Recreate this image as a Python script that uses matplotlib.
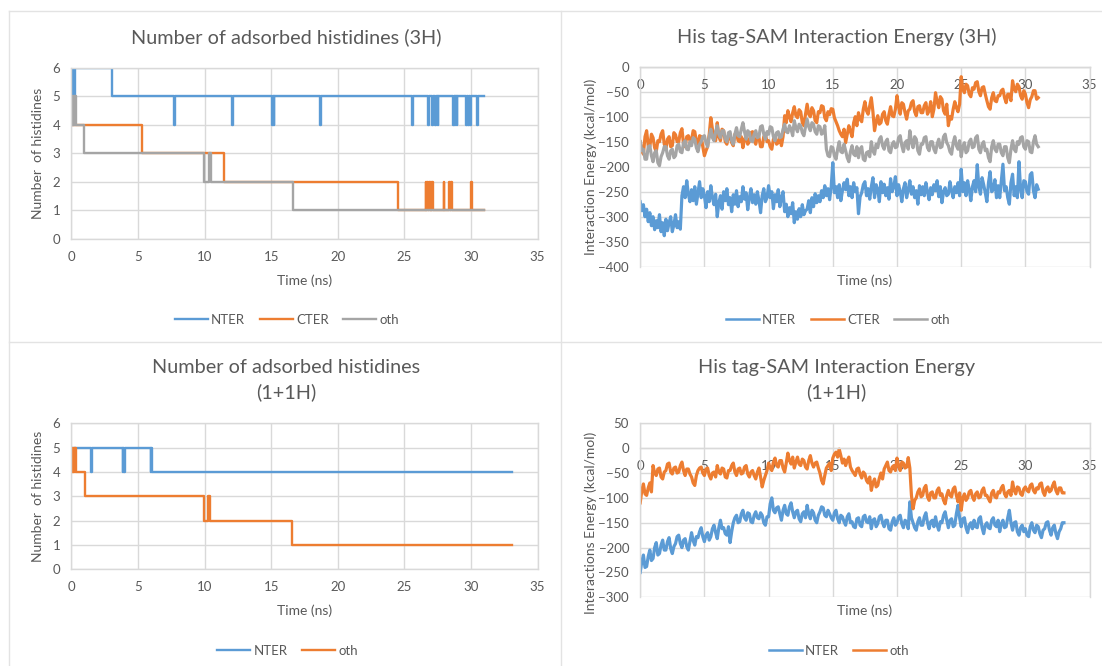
import numpy as np
import matplotlib
matplotlib.use("Agg")
import matplotlib.pyplot as plt
from matplotlib.lines import Line2D

plt.rcParams['font.family'] = ['Lato', 'DejaVu Sans']

# ---------------- data ----------------
series_3h = ["NTER", "CTER", "oth"]
series_11h = ["NTER", "oth"]
x_ticks = [0, 5, 10, 15, 20, 25, 30, 35]

# Number of adsorbed histidines (3H): step change times (ns) and levels
nter3_t = [0, 0.05, 0.1, 0.15, 0.2, 0.25, 3.06, 7.7, 7.75, 12.08, 12.13, 15.08, 15.13, 15.18, 15.23,
           18.67, 18.72, 25.6, 25.65, 26.8, 26.85, 27.07, 27.12, 27.3, 27.35, 27.5, 27.55,
           28.65, 28.7, 28.78, 28.83, 28.93, 28.98, 29.65, 29.7, 29.78, 29.83, 29.92, 29.97,
           30.45, 30.5, 31.0]
nter3_n = [4, 6, 5, 6, 5, 6, 5, 4, 5, 4, 5, 4, 5, 4, 5,
           4, 5, 4, 5, 4, 5, 4, 5, 4, 5, 4, 5,
           4, 5, 4, 5, 4, 5, 4, 5, 4, 5, 4, 5,
           4, 5, 5]
cter3_t = [0, 5.3, 11.43, 24.56, 26.6, 26.65, 26.72, 26.77, 26.85, 26.9, 26.98, 27.03, 27.1, 27.15,
           27.95, 28.0, 28.37, 28.42, 28.52, 28.57, 30.0, 30.05, 31.0]
cter3_n = [4, 3, 2, 1, 2, 1, 2, 1, 2, 1, 2, 1, 2, 1,
           2, 1, 2, 1, 2, 1, 2, 1, 1]
oth3_t = [0, 0.05, 0.1, 0.15, 0.2, 0.25, 0.3, 0.35, 0.98, 9.97, 10.33, 10.5, 16.64, 31.0]
oth3_n = [5, 4, 5, 4, 5, 4, 5, 4, 3, 2, 3, 2, 1, 1]

# Number of adsorbed histidines (1+1H)
nter11_t = [0, 1.48, 1.53, 3.84, 3.89, 3.97, 4.02, 5.95, 6.0, 6.05, 33.1]
nter11_n = [5, 4, 5, 4, 5, 4, 5, 4, 5, 4, 4]
oth11_t = [0, 0.05, 0.1, 0.15, 0.2, 0.25, 0.3, 0.35, 0.99, 9.92, 10.27, 10.4, 16.57, 33.1]
oth11_n = [5, 4, 5, 4, 5, 4, 5, 4, 3, 2, 3, 2, 1, 1]

# Interaction energy, sampled every 0.125 ns (kcal/mol); one row per ns
e_step = 0.125
nter3_e = [
    -270, -288, -276, -300, -285, -310, -292, -318,
    -300, -326, -308, -322, -296, -330, -312, -338,
    -305, -328, -312, -300, -330, -316, -296, -322,
    -310, -325, -258, -240, -262, -228, -255, -270,
    -246, -268, -240, -275, -252, -230, -262, -244,
    -258, -282, -250, -270, -238, -262, -276, -255,
    -300, -272, -258, -285, -250, -268, -244, -276,
    -262, -290, -256, -275, -248, -280, -260, -270,
    -240, -265, -252, -286, -262, -244, -272, -256,
    -275, -250, -268, -292, -258, -244, -270, -262,
    -238, -262, -250, -284, -256, -270, -246, -280,
    -262, -250, -290, -275, -300, -282, -294, -272,
    -312, -290, -305, -284, -300, -276, -296, -288,
    -285, -268, -292, -262, -280, -254, -272, -258,
    -270, -248, -262, -238, -258, -244, -266, -240,
    -192, -252, -240, -262, -236, -268, -248, -232,
    -246, -225, -258, -240, -262, -232, -250, -242,
    -294, -260, -252, -236, -230, -258, -244, -265,
    -240, -222, -262, -236, -245, -270, -230, -252,
    -235, -258, -242, -265, -224, -250, -240, -220,
    -258, -236, -250, -270, -244, -232, -262, -246,
    -228, -255, -240, -262, -248, -275, -238, -256,
    -240, -258, -232, -250, -266, -242, -256, -236,
    -248, -228, -260, -240, -272, -250, -242, -258,
    -255, -230, -248, -262, -240, -252, -232, -258,
    -205, -250, -232, -258, -228, -246, -268, -240,
    -228, -250, -196, -240, -255, -222, -236, -252,
    -270, -232, -210, -250, -245, -226, -262, -238,
    -262, -228, -195, -248, -240, -262, -275, -232,
    -215, -258, -240, -262, -190, -245, -262, -228,
    -230, -250, -255, -216, -212, -248, -262, -236,
    -245]
cter3_e = [
    -150, -168, -175, -140, -128, -158, -160, -135,
    -142, -162, -170, -148, -150, -135, -128, -155,
    -165, -145, -140, -160, -158, -132, -136, -150,
    -150, -132, -124, -155, -160, -140, -138, -148,
    -146, -128, -130, -150, -155, -138, -140, -160,
    -178, -168, -160, -135, -102, -125, -135, -148,
    -112, -140, -148, -125, -128, -150, -155, -138,
    -140, -152, -158, -135, -132, -148, -150, -140,
    -162, -145, -138, -155, -150, -132, -130, -148,
    -155, -138, -142, -160, -160, -140, -136, -150,
    -148, -160, -165, -145, -140, -155, -152, -138,
    -158, -140, -98, -112, -88, -100, -110, -92,
    -80, -98, -102, -86, -90, -112, -118, -95,
    -75, -95, -100, -82, -88, -108, -112, -90,
    -92, -78, -80, -102, -108, -90, -96, -84,
    -85, -102, -110, -118, -128, -135, -140, -125,
    -152, -135, -118, -130, -140, -112, -100, -118,
    -92, -105, -110, -85, -70, -88, -95, -78,
    -62, -90, -128, -110, -98, -115, -112, -95,
    -90, -108, -115, -95, -80, -98, -100, -85,
    -58, -80, -95, -72, -75, -92, -105, -88,
    -85, -72, -68, -90, -98, -80, -78, -92,
    -92, -78, -72, -95, -88, -70, -100, -85,
    -52, -70, -82, -60, -65, -88, -95, -75,
    -118, -100, -105, -85, -70, -82, -90, -75,
    -20, -45, -52, -35, -38, -55, -60, -42,
    -45, -32, -30, -50, -58, -42, -40, -55,
    -68, -80, -85, -62, -52, -68, -70, -58,
    -58, -48, -45, -62, -72, -55, -55, -68,
    -28, -45, -50, -35, -40, -58, -65, -48,
    -55, -72, -82, -66, -60, -48, -48, -65,
    -62]
oth3_e = [
    -150, -168, -165, -185, -185, -160, -158, -178,
    -190, -172, -168, -192, -198, -180, -172, -160,
    -160, -178, -185, -168, -165, -182, -178, -158,
    -155, -170, -172, -152, -148, -165, -166, -150,
    -158, -142, -145, -162, -170, -155, -150, -140,
    -138, -152, -160, -140, -125, -142, -148, -130,
    -118, -135, -142, -128, -128, -145, -150, -132,
    -130, -148, -155, -135, -122, -138, -140, -125,
    -112, -130, -145, -128, -132, -148, -150, -135,
    -128, -142, -140, -120, -118, -135, -145, -130,
    -135, -120, -122, -140, -148, -132, -130, -142,
    -140, -125, -115, -130, -132, -118, -125, -138,
    -108, -122, -130, -115, -118, -132, -138, -120,
    -105, -120, -128, -112, -115, -130, -135, -118,
    -120, -135, -132, -118, -165, -178, -180, -160,
    -162, -178, -185, -165, -150, -170, -172, -155,
    -168, -182, -190, -170, -158, -175, -178, -160,
    -182, -165, -160, -185, -188, -172, -170, -180,
    -150, -168, -175, -155, -162, -145, -140, -158,
    -165, -150, -145, -168, -172, -155, -150, -162,
    -160, -142, -138, -158, -170, -152, -148, -165,
    -128, -150, -162, -140, -145, -168, -175, -155,
    -155, -142, -140, -162, -168, -150, -150, -165,
    -172, -155, -145, -162, -160, -140, -135, -152,
    -158, -170, -175, -152, -140, -158, -165, -148,
    -180, -160, -152, -172, -168, -150, -145, -162,
    -160, -142, -138, -165, -172, -155, -150, -168,
    -165, -182, -190, -160, -148, -165, -170, -155,
    -155, -172, -178, -160, -160, -182, -192, -165,
    -148, -165, -170, -150, -155, -142, -140, -160,
    -165, -148, -150, -170, -172, -150, -138, -155,
    -160]
nter11_e = [
    -250, -228, -215, -240, -238, -218, -205, -226,
    -222, -200, -190, -215, -212, -195, -185, -205,
    -205, -188, -180, -202, -212, -198, -192, -178,
    -175, -192, -200, -185, -182, -198, -205, -188,
    -170, -186, -195, -178, -180, -168, -160, -178,
    -188, -175, -170, -185, -178, -162, -155, -170,
    -182, -160, -145, -162, -160, -172, -175, -158,
    -190, -168, -150, -140, -135, -150, -148, -132,
    -125, -140, -145, -130, -132, -148, -150, -135,
    -128, -140, -142, -130, -135, -150, -155, -138,
    -138, -112, -100, -125, -130, -120, -118, -132,
    -145, -125, -115, -132, -135, -118, -110, -128,
    -140, -128, -125, -142, -148, -132, -128, -140,
    -115, -132, -142, -125, -130, -145, -150, -135,
    -128, -118, -120, -135, -138, -125, -132, -140,
    -145, -130, -125, -142, -150, -135, -138, -148,
    -155, -138, -132, -150, -148, -158, -160, -142,
    -140, -155, -158, -138, -135, -148, -150, -138,
    -162, -145, -142, -158, -152, -138, -135, -150,
    -158, -145, -145, -162, -165, -148, -140, -155,
    -150, -138, -135, -152, -160, -145, -148, -162,
    -108, -140, -150, -160, -165, -148, -140, -155,
    -155, -138, -130, -150, -162, -148, -145, -158,
    -138, -155, -165, -148, -150, -135, -128, -145,
    -160, -145, -142, -158, -155, -132, -115, -140,
    -158, -142, -140, -160, -170, -155, -150, -162,
    -145, -158, -160, -142, -138, -160, -172, -155,
    -150, -160, -162, -145, -140, -155, -158, -145,
    -168, -152, -145, -160, -158, -140, -125, -150,
    -165, -150, -148, -168, -175, -160, -155, -168,
    -162, -175, -178, -158, -150, -165, -170, -155,
    -158, -172, -180, -165, -162, -150, -148, -165,
    -175, -160, -155, -172, -182, -168, -162, -150,
    -150]
oth11_e = [
    -110, -85, -72, -92, -95, -80, -70, -88,
    -35, -50, -55, -42, -40, -58, -62, -48,
    -45, -32, -30, -48, -52, -40, -38, -50,
    -48, -35, -28, -45, -55, -42, -42, -52,
    -58, -70, -75, -55, -45, -40, -38, -50,
    -55, -42, -40, -55, -62, -50, -48, -58,
    -35, -48, -52, -40, -42, -58, -60, -45,
    -45, -35, -30, -48, -55, -42, -40, -52,
    -50, -38, -35, -52, -58, -48, -45, -55,
    -62, -48, -40, -58, -78, -65, -55, -45,
    -30, -40, -45, -28, -20, -35, -38, -25,
    -25, -40, -48, -30, -10, -25, -32, -18,
    -40, -28, -18, -32, -35, -22, -25, -38,
    -42, -25, -15, -30, -38, -30, -28, -40,
    -50, -65, -72, -55, -40, -35, -30, -45,
    -20, -12, -8, -18, -2, -15, -30, -22,
    -35, -25, -18, -38, -45, -50, -55, -42,
    -40, -52, -60, -48, -52, -65, -70, -58,
    -85, -70, -62, -78, -75, -60, -50, -62,
    -42, -35, -28, -45, -48, -38, -35, -45,
    -20, -35, -45, -28, -30, -40, -38, -19,
    -40, -95, -122, -105, -100, -88, -82, -98,
    -95, -80, -75, -98, -105, -90, -88, -100,
    -100, -85, -80, -95, -92, -105, -112, -95,
    -85, -95, -98, -82, -78, -95, -108, -90,
    -125, -100, -92, -105, -100, -88, -85, -98,
    -105, -92, -88, -100, -98, -85, -80, -95,
    -95, -102, -108, -90, -85, -98, -100, -88,
    -90, -80, -75, -92, -98, -88, -85, -95,
    -68, -85, -92, -78, -80, -92, -95, -82,
    -78, -85, -88, -75, -72, -85, -90, -80,
    -82, -72, -70, -88, -95, -82, -78, -88,
    -85, -75, -68, -85, -92, -80, -80, -90,
    -90]

colors = {"NTER": "#5B9BD5", "CTER": "#ED7D31", "oth": "#A5A5A5"}
TXT = "#595959"
GRID = "#D9D9D9"

# ---------------- figure ----------------
W, H = 1102, 666
fig = plt.figure(figsize=(W / 100, H / 100), dpi=100)


def rect(l, r, t, b):
    return [l / W, 1 - b / H, (r - l) / W, (b - t) / H]


def fx(x):
    return x / W


def fy(y):
    return 1 - y / H


# panel borders
for (x0, y0, x1, y1) in [(9, 11, W, 11), (9, 342, W, 342), (9, 11, 9, H), (561, 11, 561, H)]:
    fig.add_artist(Line2D([fx(x0), fx(x1)], [fy(y0), fy(y1)], color="#E3E3E3", lw=1.0))


def style(ax, yticks, ylim, axis_at_zero=False):
    ax.set_xlim(0, 35)
    ax.set_ylim(*ylim)
    ax.set_xticks(x_ticks)
    ax.set_yticks(yticks)
    ax.grid(True, color=GRID, lw=1.0)
    ax.set_axisbelow(True)
    for s in ax.spines.values():
        s.set_color(GRID)
        s.set_linewidth(1.0)
    if axis_at_zero:
        ax.spines['bottom'].set_position(('data', 0))
    ax.tick_params(length=0, labelsize=9.5, colors=TXT, pad=8)
    ax.tick_params(axis='x', pad=8.5)


def legend(names, handles, cx, cy):
    fig.legend(handles, names, loc="center", bbox_to_anchor=(fx(cx), fy(cy)), ncol=len(names),
               frameon=False, fontsize=9.5, handlelength=2.5, handletextpad=0.25,
               columnspacing=1.1, labelcolor=TXT)


title_kw = dict(ha="center", va="center", fontsize=14.3, color=TXT)
lab_kw = dict(ha="center", va="center", fontsize=10, color=TXT)
E_LW = 2.3

# ---- top-left ----
ax1 = fig.add_axes(rect(71.4, 537.5, 67.7, 239))
style(ax1, range(0, 7), (0, 6))
h = []
for name, t, n in [("NTER", nter3_t, nter3_n), ("CTER", cter3_t, cter3_n), ("oth", oth3_t, oth3_n)]:
    h.append(ax1.plot(t, n, drawstyle="steps-post", color=colors[name], lw=1.7)[0])
fig.text(fx(286), fy(37), "Number of adsorbed histidines (3H)", **title_kw)
fig.text(fx(304.5), fy(281), "Time (ns)", **lab_kw)
fig.text(fx(38), fy(153.4), "Number  of histidines", rotation=90, **lab_kw)
legend(series_3h, h, 287, 320)

# ---- top-right ----
ax2 = fig.add_axes(rect(640.2, 1089.6, 66.7, 266.7))
style(ax2, range(-400, 1, 50), (-400, 0), axis_at_zero=True)
t3 = np.arange(len(nter3_e)) * e_step
h = []
for name, e in [("NTER", nter3_e), ("CTER", cter3_e), ("oth", oth3_e)]:
    ax2.plot(t3, e, color=colors[name], lw=E_LW)
    h.append(Line2D([], [], color=colors[name], lw=1.8))
fig.text(fx(836.5), fy(37), "His tag-SAM Interaction Energy (3H)", **title_kw)
fig.text(fx(864.9), fy(281), "Time (ns)", **lab_kw)
fig.text(fx(590.5), fy(166.7), "Interaction Energy (kcal/mol)", rotation=90, **lab_kw)
legend(series_3h, h, 838, 320)

# ---- bottom-left ----
ax3 = fig.add_axes(rect(71.4, 537.5, 423.3, 569.3))
style(ax3, range(0, 7), (0, 6))
h = []
for name, t, n in [("NTER", nter11_t, nter11_n), ("oth", oth11_t, oth11_n)]:
    c = colors["NTER"] if name == "NTER" else colors["CTER"]
    h.append(ax3.plot(t, n, drawstyle="steps-post", color=c, lw=1.7)[0])
fig.text(fx(286), fy(380), "Number of adsorbed histidines\n(1+1H)", linespacing=1.45, **title_kw)
fig.text(fx(304.5), fy(611), "Time (ns)", **lab_kw)
fig.text(fx(38), fy(496), "Number  of histidines", rotation=90, **lab_kw)
legend(series_11h, h, 287.5, 651)

# ---- bottom-right ----
ax4 = fig.add_axes(rect(640.2, 1089.6, 423.3, 597.3))
style(ax4, range(-300, 51, 50), (-300, 50), axis_at_zero=True)
t11 = np.arange(len(nter11_e)) * e_step
h = []
for name, e in [("NTER", nter11_e), ("oth", oth11_e)]:
    c = colors["NTER"] if name == "NTER" else colors["CTER"]
    ax4.plot(t11, e, color=c, lw=E_LW)
    h.append(Line2D([], [], color=c, lw=1.8))
fig.text(fx(836.5), fy(380), "His tag-SAM Interaction Energy\n(1+1H)", linespacing=1.45, **title_kw)
fig.text(fx(864.9), fy(611), "Time (ns)", **lab_kw)
fig.text(fx(590.5), fy(523), "Interactions Energy (kcal/mol)", rotation=90, **lab_kw)
legend(series_11h, h, 839, 651)

fig.savefig("out.png", dpi=100, facecolor="white")
